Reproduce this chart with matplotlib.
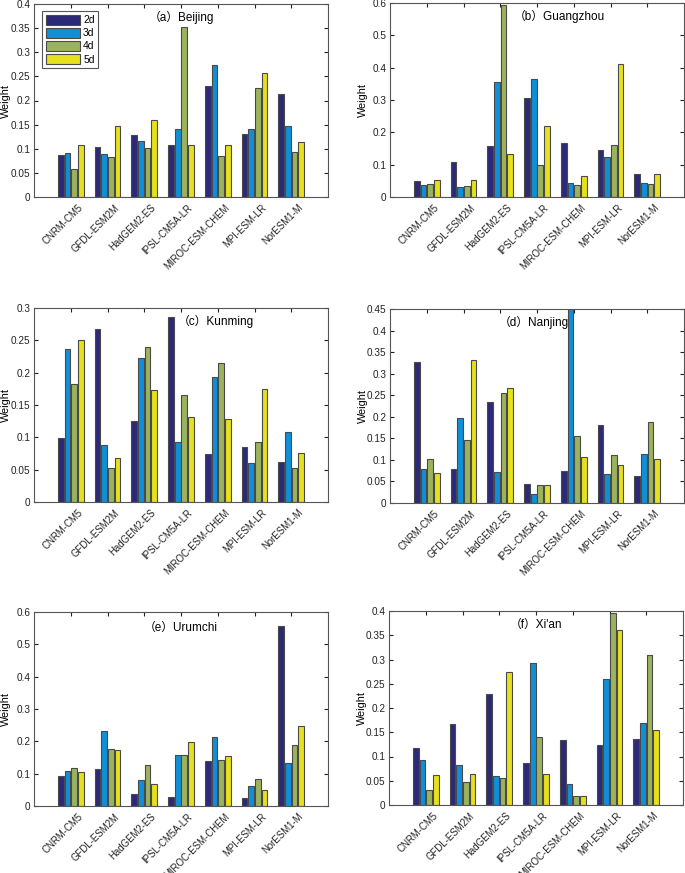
import numpy as np
import matplotlib
matplotlib.use("Agg")
import matplotlib.pyplot as plt
import matplotlib.transforms as mtransforms

plt.rcParams['font.family'] = ['Liberation Sans', 'Noto Sans CJK SC', 'DejaVu Sans']

models = ["CNRM-CM5", "GFDL-ESM2M", "HadGEM2-ES", "IPSL-CM5A-LR",
          "MIROC-ESM-CHEM", "MPI-ESM-LR", "NorESM1-M"]
series = ["2d", "3d", "4d", "5d"]
colors = ["#2c2a78", "#0f8fd8", "#9bb35c", "#e6e11c"]

# values[model] = [2d, 3d, 4d, 5d]
beijing = [[0.087, 0.092, 0.059, 0.107],
           [0.103, 0.089, 0.082, 0.148],
           [0.128, 0.116, 0.102, 0.160],
           [0.107, 0.141, 0.353, 0.107],
           [0.231, 0.273, 0.084, 0.108],
           [0.130, 0.141, 0.226, 0.256],
           [0.214, 0.147, 0.094, 0.115]]
guangzhou = [[0.050, 0.038, 0.040, 0.052],
             [0.109, 0.032, 0.033, 0.052],
             [0.159, 0.357, 0.593, 0.133],
             [0.305, 0.364, 0.099, 0.221],
             [0.166, 0.044, 0.037, 0.066],
             [0.144, 0.125, 0.160, 0.410],
             [0.070, 0.044, 0.040, 0.072]]
kunming = [[0.0995, 0.237, 0.182, 0.251],
           [0.268, 0.0887, 0.0526, 0.068],
           [0.126, 0.222, 0.240, 0.173],
           [0.286, 0.0928, 0.165, 0.132],
           [0.0747, 0.193, 0.215, 0.129],
           [0.0856, 0.060, 0.093, 0.175],
           [0.062, 0.109, 0.0526, 0.075]]
nanjing = [[0.326, 0.080, 0.103, 0.069],
           [0.079, 0.198, 0.147, 0.331],
           [0.235, 0.073, 0.255, 0.266],
           [0.043, 0.021, 0.042, 0.041],
           [0.075, 0.450, 0.155, 0.106],
           [0.181, 0.067, 0.112, 0.089],
           [0.063, 0.114, 0.187, 0.101]]
urumchi = [[0.094, 0.109, 0.116, 0.106],
           [0.113, 0.231, 0.177, 0.173],
           [0.037, 0.081, 0.128, 0.067],
           [0.029, 0.159, 0.159, 0.198],
           [0.140, 0.214, 0.142, 0.156],
           [0.026, 0.063, 0.083, 0.048],
           [0.557, 0.134, 0.188, 0.247]]
xian = [[0.117, 0.093, 0.031, 0.062],
        [0.168, 0.082, 0.047, 0.064],
        [0.228, 0.059, 0.056, 0.274],
        [0.087, 0.293, 0.141, 0.064],
        [0.134, 0.043, 0.018, 0.019],
        [0.124, 0.259, 0.395, 0.360],
        [0.136, 0.169, 0.309, 0.154]]

titles = ["（a）Beijing", "（b）Guangzhou", "（c）Kunming",
          "（d）Nanjing", "（e）Urumchi", "（f）Xi'an"]
datasets = [beijing, guangzhou, kunming, nanjing, urumchi, xian]
ymaxes = [0.4, 0.6, 0.3, 0.45, 0.6, 0.4]
ysteps = [0.05, 0.1, 0.05, 0.05, 0.1, 0.05]

W, H = 685, 873
# (left, top, right, bottom) in pixels
boxes = [(34, 4, 328, 197), (390, 3, 684, 197),
         (34, 308, 328, 502), (390, 309, 684, 503),
         (34, 612, 328, 806), (389, 611, 683, 805)]
title_x = [0.50, 0.575, 0.62, 0.49, 0.50, 0.50]
title_y = [0.93, 0.93, 0.93, 0.93, 0.92, 0.93]
ylabel_x = [-0.080, -0.076, -0.080, -0.076, -0.080, -0.076]

fig = plt.figure(figsize=(W / 100, H / 100), dpi=100)
x = np.arange(1, len(models) + 1)
bw = 0.155
offs = (np.arange(4) - 1.5) * 0.18
spine_c = "#555555"
lab_off = mtransforms.ScaledTranslation(0.10, -0.09, fig.dpi_scale_trans)

for i, (data, box) in enumerate(zip(datasets, boxes)):
    l, t, r, b = box
    ax = fig.add_axes([l / W, 1 - b / H, (r - l) / W, (b - t) / H])
    arr = np.array(data)
    for k in range(4):
        ax.bar(x + offs[k], arr[:, k], width=bw, color=colors[k],
               edgecolor="#4a4a4a", linewidth=0.8, label=series[k], zorder=2)
    ax.set_xlim(0, 8)
    ax.set_ylim(0, ymaxes[i])
    yt = np.round(np.arange(0, ymaxes[i] + 1e-9, ysteps[i]), 3)
    ax.set_yticks(yt)
    ax.set_yticklabels([("%g" % v) for v in yt])
    ax.set_xticks(x)
    ax.set_xticklabels([])
    trans = mtransforms.blended_transform_factory(ax.transData, ax.transAxes) + lab_off
    for xi, name in zip(x, models):
        ax.text(xi, 0, name, transform=trans, rotation=45,
                rotation_mode="anchor", ha="right", va="center",
                fontsize=6.9, color="#222222")
    ax.tick_params(axis="both", direction="in", length=3, width=0.8,
                   labelsize=7.2, top=True, right=True, pad=2.5, colors="#222222")
    for s in ax.spines.values():
        s.set_color(spine_c)
        s.set_linewidth(0.8)
    ax.set_ylabel("Weight", fontsize=7.8)
    ax.yaxis.set_label_coords(ylabel_x[i], 0.5)
    ax.text(title_x[i], title_y[i], titles[i], transform=ax.transAxes,
            ha="center", va="center", fontsize=8.5,
            family=["Liberation Sans", "Noto Sans CJK SC"])
    if i == 0:
        leg = ax.legend(loc="upper left", bbox_to_anchor=(0.02, 0.975),
                        fontsize=7.5, handlelength=3.3, handleheight=1.1,
                        handletextpad=0.3, labelspacing=0.25,
                        borderpad=0.35, borderaxespad=0.2, fancybox=False,
                        framealpha=1)
        leg.get_frame().set_edgecolor("#555555")
        leg.get_frame().set_linewidth(0.8)

fig.savefig("out.png", dpi=100)
